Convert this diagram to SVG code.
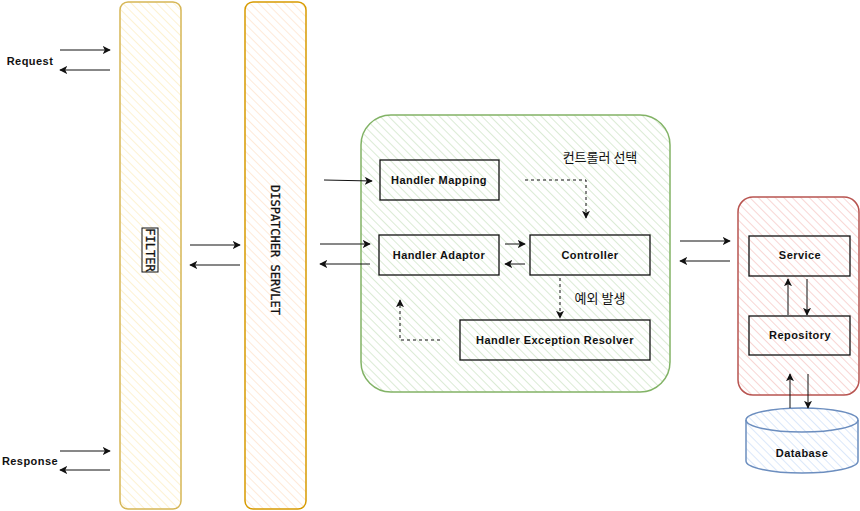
<svg xmlns="http://www.w3.org/2000/svg" width="860" height="511" viewBox="0 0 860 511">
<style>
.lbl{font-family:"Liberation Sans","Lato",sans-serif;font-weight:bold;font-size:11px;letter-spacing:0.45px;fill:#111;text-anchor:middle;dominant-baseline:central}
.ko{font-family:"Noto Sans CJK KR","Noto Sans",sans-serif;font-size:13px;fill:#111;text-anchor:middle;dominant-baseline:central}
.mono{font-family:"DejaVu Sans Mono","Liberation Mono",monospace;font-size:12px;fill:#111;stroke:#111;stroke-width:0.3;text-anchor:middle;dominant-baseline:central}
.box{fill:none;stroke:#111;stroke-width:1.3}
.ln{fill:none;stroke:#111;stroke-width:1}
.dash{fill:none;stroke:#111;stroke-width:1;stroke-dasharray:3 3}
</style>
<defs>
<pattern id="hY" width="6" height="6" patternUnits="userSpaceOnUse" patternTransform="rotate(-45)"><line x1="0" y1="0" x2="0" y2="6" stroke="#fce9b4" stroke-width="1.2"/></pattern>
<pattern id="hO" width="6" height="6" patternUnits="userSpaceOnUse" patternTransform="rotate(-45)"><line x1="0" y1="0" x2="0" y2="6" stroke="#fddcc0" stroke-width="1.2"/></pattern>
<pattern id="hG" width="6" height="6" patternUnits="userSpaceOnUse" patternTransform="rotate(-45)"><line x1="0" y1="0" x2="0" y2="6" stroke="#c3deb8" stroke-width="1.2"/></pattern>
<pattern id="hR" width="6" height="6" patternUnits="userSpaceOnUse" patternTransform="rotate(-45)"><line x1="0" y1="0" x2="0" y2="6" stroke="#f3bab7" stroke-width="1.2"/></pattern>
<pattern id="hB" width="6" height="6" patternUnits="userSpaceOnUse" patternTransform="rotate(-45)"><line x1="0" y1="0" x2="0" y2="6" stroke="#c3d9f6" stroke-width="1.2"/></pattern>
<marker id="ar" viewBox="0 0 10 10" refX="9" refY="5" markerWidth="8" markerHeight="8" markerUnits="userSpaceOnUse" orient="auto"><path d="M0,0 L10,5 L0,10 L2.5,5 Z" fill="#111"/></marker>
</defs>

<g id="filter">
<rect x="120" y="2" width="61" height="507" rx="8" fill="url(#hY)" stroke="#d6b656" stroke-width="1.5"/>
<rect x="142" y="228" width="16" height="44" fill="none" stroke="#111" stroke-width="1"/>
<text class="mono" transform="translate(150,250) rotate(90)">FILTER</text>
</g>
<g id="dispatcher">
<rect x="245" y="2" width="61" height="507" rx="8" fill="url(#hO)" stroke="#d79b00" stroke-width="1.5"/>
<text class="mono" transform="translate(275,250) rotate(90)">DISPATCHER SERVLET</text>
</g>
<g id="request"><text class="lbl" x="30" y="61">Request</text></g>
<g id="response"><text class="lbl" x="30" y="461">Response</text></g>

<g id="mvc">
<rect x="361" y="115" width="309" height="277" rx="30" fill="url(#hG)" stroke="#82b366" stroke-width="1.5"/>
<text class="ko" x="600" y="156">컨트롤러 선택</text>
<text class="ko" x="600" y="297">예외 발생</text>
</g>
<g id="handler-mapping"><rect class="box" x="380" y="160" width="119" height="40"/><text class="lbl" x="439" y="180">Handler Mapping</text></g>
<g id="handler-adaptor"><rect class="box" x="379" y="235" width="120" height="40"/><text class="lbl" x="439" y="255">Handler Adaptor</text></g>
<g id="controller"><rect class="box" x="530" y="235" width="120" height="40"/><text class="lbl" x="590" y="255">Controller</text></g>
<g id="exception-resolver"><rect class="box" x="460" y="320" width="190" height="40"/><text class="lbl" x="555" y="340">Handler Exception Resolver</text></g>

<g id="backend">
<rect x="738" y="197" width="121" height="198" rx="15" fill="url(#hR)" stroke="#b85450" stroke-width="1.5"/>
</g>
<g id="service"><rect class="box" x="749" y="236" width="101" height="40"/><text class="lbl" x="800" y="255">Service</text></g>
<g id="repository"><rect class="box" x="749" y="316" width="101" height="39"/><text class="lbl" x="800" y="335">Repository</text></g>
<g id="database">
<path d="M746,420 A56,12 0 0 1 858,420 L858,461 A56,12 0 0 1 746,461 Z" fill="url(#hB)" stroke="#6c8ebf" stroke-width="1.5"/>
<path d="M746,420 A56,12 0 0 0 858,420" fill="none" stroke="#6c8ebf" stroke-width="1.5"/>
<text class="lbl" x="802" y="453">Database</text>
</g>

<g id="connectors">
<line class="ln" x1="60" y1="50" x2="110" y2="50" marker-end="url(#ar)"/>
<line class="ln" x1="110" y1="70" x2="60" y2="70" marker-end="url(#ar)"/>
<line class="ln" x1="60" y1="451" x2="110" y2="451" marker-end="url(#ar)"/>
<line class="ln" x1="110" y1="470" x2="60" y2="470" marker-end="url(#ar)"/>
<line class="ln" x1="190" y1="245" x2="240" y2="245" marker-end="url(#ar)"/>
<line class="ln" x1="240" y1="265" x2="190" y2="265" marker-end="url(#ar)"/>
<line class="ln" x1="324" y1="180" x2="372" y2="181" marker-end="url(#ar)"/>
<line class="ln" x1="320" y1="244" x2="370" y2="244" marker-end="url(#ar)"/>
<line class="ln" x1="370" y1="264" x2="320" y2="264" marker-end="url(#ar)"/>
<path class="dash" d="M525,180 L586,180 L586,218" marker-end="url(#ar)"/>
<line class="ln" x1="505" y1="244" x2="525" y2="244" marker-end="url(#ar)"/>
<line class="ln" x1="525" y1="264" x2="505" y2="264" marker-end="url(#ar)"/>
<line class="dash" x1="560" y1="278" x2="560" y2="318" marker-end="url(#ar)"/>
<path class="dash" d="M440,340 L400,340 L400,300" marker-end="url(#ar)"/>
<line class="ln" x1="680" y1="241" x2="730" y2="241" marker-end="url(#ar)"/>
<line class="ln" x1="730" y1="261" x2="680" y2="261" marker-end="url(#ar)"/>
<line class="ln" x1="788" y1="315" x2="788" y2="279" marker-end="url(#ar)"/>
<line class="ln" x1="807" y1="279" x2="807" y2="315" marker-end="url(#ar)"/>
<line class="ln" x1="790" y1="408" x2="790" y2="374" marker-end="url(#ar)"/>
<line class="ln" x1="808" y1="374" x2="808" y2="408" marker-end="url(#ar)"/>
</g>
</svg>
